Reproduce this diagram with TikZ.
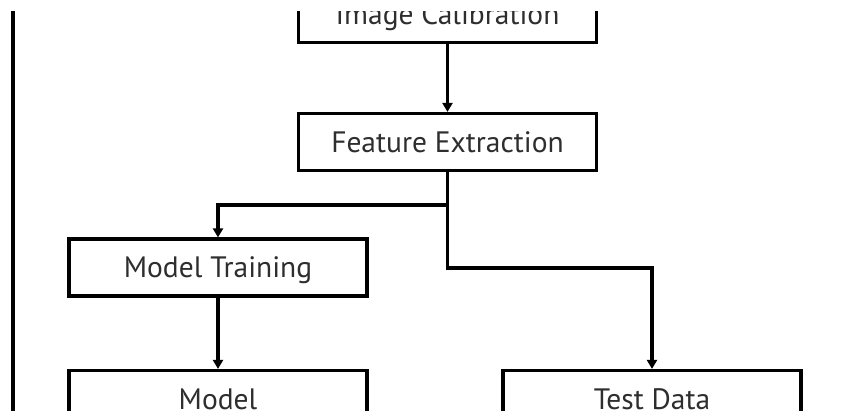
\documentclass[tikz,border=0pt]{standalone}
\usepackage{fontspec}
\setmainfont{PT Sans}
\usetikzlibrary{arrows.meta}

\begin{document}
\begin{tikzpicture}[
  x=1pt, y=-1pt,
  box/.style={rectangle, draw, line width=3.2pt, fill=white, minimum width=298pt, minimum height=57pt, inner sep=0pt, text depth=0pt, font=\fontsize{29.5}{34}\selectfont, text=black!82},
  arr/.style={-{Triangle[width=10pt,length=9pt]}, line width=3.2pt},
]
  \useasboundingbox[fill=white] (0,0) rectangle (859,411);
  \begin{scope}
    \clip (0,12) rectangle (859,411);
    \draw[line width=3.2pt] (13,0) -- (13,411);

    \node[box] (calib) at (447.5,14) {Image Calibration};
    \node[box] (feat) at (447.5,142) {Feature Extraction};
    \node[box] (train) at (218,267.5) {Model Training};
    \node[box] (model) at (218,399) {Model};
    \node[box] (test) at (652,399) {Test Data};

    \coordinate (split) at (447.5,205);
    \coordinate (bend) at (447.5,268);

    \draw[arr] (calib) -- (feat);
    \draw[arr] (feat.south) -- (split) -| (train.north);
    \draw[arr] (split) -- (bend) -| (test.north);
    \draw[arr] (train) -- (model);
  \end{scope}
\end{tikzpicture}
\end{document}
